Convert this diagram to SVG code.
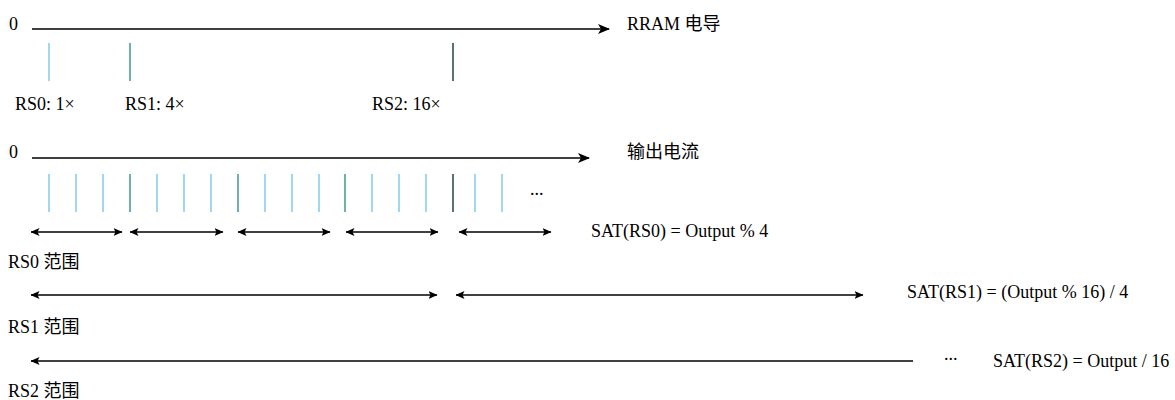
<svg xmlns="http://www.w3.org/2000/svg" width="1175" height="400" viewBox="0 0 1175 400">
<defs>
<style>
text{font-family:"Liberation Serif","Noto Sans CJK SC",serif;font-size:18px;fill:#000}
.ax{stroke:#000;stroke-width:1.6;fill:none}
.rg{stroke:#000;stroke-width:1.5;fill:none}
.t1{stroke:#87CEEB;stroke-width:1.6}
.t4{stroke:#4A9E9A;stroke-width:1.6}
.t16{stroke:#2F4F4F;stroke-width:1.6}
</style>
<marker id="big" viewBox="0 0 12 10" refX="11" refY="5" markerWidth="12" markerHeight="10" markerUnits="userSpaceOnUse" orient="auto">
<path d="M0,0 L12,5 L0,10 L3,5 Z" fill="#000"/>
</marker>
<marker id="sm" viewBox="0 0 9 8" refX="8.5" refY="4" markerWidth="9" markerHeight="8" markerUnits="userSpaceOnUse" orient="auto-start-reverse">
<path d="M0,0 L9,4 L0,8 L2,4 Z" fill="#000"/>
</marker>
</defs>
<rect width="1175" height="400" fill="#fff"/>

<g id="axis-conductance">
<text x="9" y="30">0</text>
<line class="ax" x1="32" y1="29" x2="609" y2="29" marker-end="url(#big)"/>
<text x="627" y="30">RRAM 电导</text>
</g>
<g id="ticks-conductance">
<line class="t1" x1="49" y1="43" x2="49" y2="81"/>
<line class="t4" x1="130" y1="43" x2="130" y2="81"/>
<line class="t16" x1="453" y1="43" x2="453" y2="81"/>
<text x="15" y="110">RS0: 1×</text>
<text x="125" y="110">RS1: 4×</text>
<text x="372" y="110">RS2: 16×</text>
</g>

<g id="axis-current">
<text x="9" y="158">0</text>
<line class="ax" x1="32" y1="158" x2="589" y2="158" marker-end="url(#big)"/>
<text x="627" y="158">输出电流</text>
</g>
<g id="ticks-current">
<line class="t1" x1="49" y1="174" x2="49" y2="212"/>
<line class="t1" x1="76" y1="174" x2="76" y2="212"/>
<line class="t1" x1="103" y1="174" x2="103" y2="212"/>
<line class="t4" x1="130" y1="174" x2="130" y2="212"/>
<line class="t1" x1="157" y1="174" x2="157" y2="212"/>
<line class="t1" x1="184" y1="174" x2="184" y2="212"/>
<line class="t1" x1="211" y1="174" x2="211" y2="212"/>
<line class="t4" x1="238" y1="174" x2="238" y2="212"/>
<line class="t1" x1="265" y1="174" x2="265" y2="212"/>
<line class="t1" x1="292" y1="174" x2="292" y2="212"/>
<line class="t1" x1="319" y1="174" x2="319" y2="212"/>
<line class="t4" x1="345" y1="174" x2="345" y2="212"/>
<line class="t1" x1="372" y1="174" x2="372" y2="212"/>
<line class="t1" x1="399" y1="174" x2="399" y2="212"/>
<line class="t1" x1="426" y1="174" x2="426" y2="212"/>
<line class="t16" x1="453" y1="174" x2="453" y2="212"/>
<line class="t1" x1="475" y1="174" x2="475" y2="212"/>
<line class="t1" x1="502" y1="174" x2="502" y2="212"/>
<text x="530" y="195">...</text>
</g>

<g id="connectors">
<line class="rg" x1="31" y1="232" x2="122" y2="232" marker-start="url(#sm)" marker-end="url(#sm)"/>
<line class="rg" x1="130" y1="232" x2="223" y2="232" marker-start="url(#sm)" marker-end="url(#sm)"/>
<line class="rg" x1="238" y1="232" x2="330" y2="232" marker-start="url(#sm)" marker-end="url(#sm)"/>
<line class="rg" x1="346" y1="232" x2="438" y2="232" marker-start="url(#sm)" marker-end="url(#sm)"/>
<line class="rg" x1="459" y1="232" x2="551" y2="232" marker-start="url(#sm)" marker-end="url(#sm)"/>
<line class="rg" x1="31" y1="295" x2="437" y2="295" marker-start="url(#sm)" marker-end="url(#sm)"/>
<line class="rg" x1="456" y1="295" x2="863" y2="295" marker-start="url(#sm)" marker-end="url(#sm)"/>
<line class="rg" x1="31" y1="361" x2="913" y2="361" marker-start="url(#sm)"/>
</g>

<g id="labels-rs0">
<text x="591" y="237">SAT(RS0) = Output % 4</text>
<text x="8" y="268">RS0 范围</text>
</g>
<g id="labels-rs1">
<text x="907" y="298">SAT(RS1) = (Output % 16) / 4</text>
<text x="8" y="333">RS1 范围</text>
</g>
<g id="labels-rs2">
<text x="944" y="360">...</text>
<text x="993" y="367">SAT(RS2) = Output / 16</text>
<text x="8" y="397">RS2 范围</text>
</g>
</svg>
